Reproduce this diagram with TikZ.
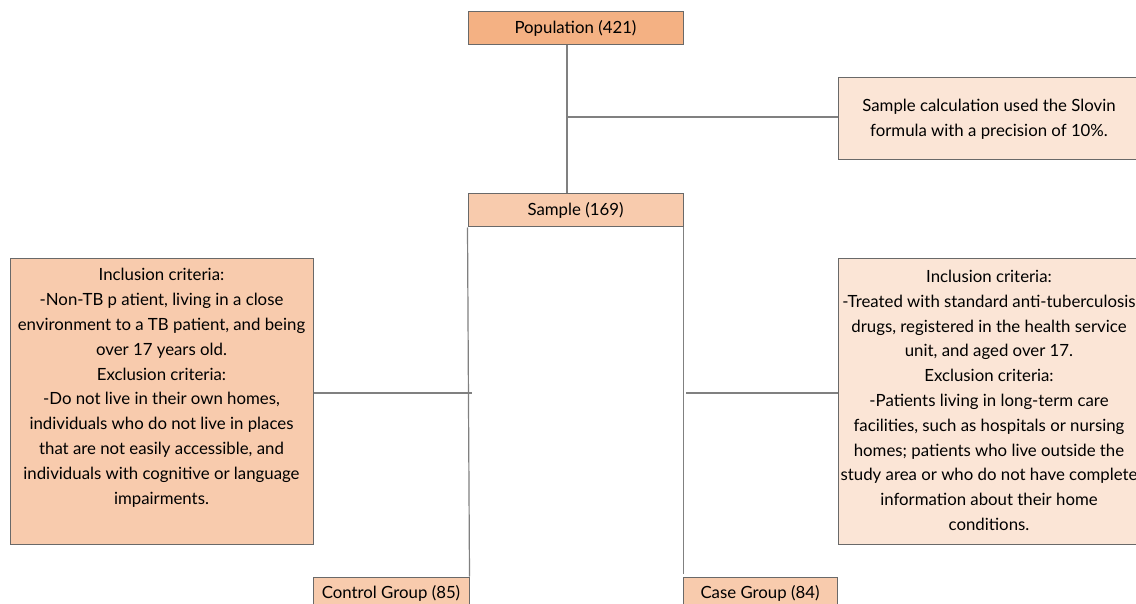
\documentclass[tikz,border=0pt]{standalone}
\usepackage{fontspec}
\setmainfont{Lato}
\usepackage{tikz}
\usetikzlibrary{positioning, calc}
\definecolor{popfill}{RGB}{244, 177, 131}
\definecolor{midfill}{RGB}{248, 203, 173}
\definecolor{lightfill}{RGB}{251, 229, 214}
\definecolor{edge}{RGB}{105, 105, 105}
\setlength{\tabcolsep}{0pt}
\tikzstyle{box} = [rectangle, draw=edge, line width=1pt, text centered, inner sep=0pt, font=\fontsize{16.8}{24.8}\selectfont]
\tikzstyle{link} = [draw=edge!85, line width=1.2pt]

\begin{document}
\begin{tikzpicture}[x=1pt, y=-1pt]
    \useasboundingbox (0, 0) rectangle (1136, 604);

    % Population and sample
    \node[box, fill=popfill, minimum width=215pt, minimum height=33pt] (pop) at (575.5, 28.5) {Population (421)};
    \node[box, fill=midfill, minimum width=215pt, minimum height=33pt] (sample) at (575.5, 210.5) {Sample (169)};

    % Sample calculation note
    \node[box, fill=lightfill, minimum width=302pt, minimum height=82pt] (slovin) at (989, 119) {
        \begin{tabular}{c}
            Sample calculation used the Slovin \\
            formula with a precision of 10\%.
        \end{tabular}
    };

    % Criteria boxes
    \node[box, fill=midfill, minimum width=303pt, minimum height=285pt] (critctrl) at (161.5, 401.5) {
        \begin{tabular}{c}
            Inclusion criteria: \\
            -Non-TB p atient, living in a close \\
            environment to a TB patient, and being \\
            over 17 years old. \\
            Exclusion criteria: \\
            -Do not live in their own homes, \\
            individuals who do not live in places \\
            that are not easily accessible, and \\
            individuals with cognitive or language \\
            impairments. \\[28pt]
        \end{tabular}
    };
    \node[box, fill=lightfill, minimum width=302pt, minimum height=285pt] (critcase) at (989, 401.5) {
        \begin{tabular}{c}
            Inclusion criteria: \\
            -Treated with standard anti-tuberculosis \\
            drugs, registered in the health service \\
            unit, and aged over 17. \\
            Exclusion criteria: \\
            -Patients living in long-term care \\
            facilities, such as hospitals or nursing \\
            homes; patients who live outside the \\
            study area or who do not have complete \\
            information about their home \\
            conditions.
        \end{tabular}
    };

    % Groups
    \node[box, fill=midfill, minimum width=156pt, minimum height=33pt] (control) at (391, 593.5) {Control Group (85)};
    \node[box, fill=midfill, minimum width=154pt, minimum height=33pt] (case) at (760, 593.5) {Case Group (84)};

    % Connections
    \coordinate (split) at (567, 117);
    \coordinate (ljoin) at (472, 393);
    \coordinate (rjoin) at (686, 393);
    \draw[link] (split |- pop.south) -- (split |- sample.north);
    \draw[link] (split) -- (split -| slovin.west);
    \draw[link] (sample.south west) -- (control.north east);
    \draw[link, shorten >=3pt] (sample.south east) -- (sample.south east |- case.north);
    \draw[link] (ljoin -| critctrl.east) -- (ljoin);
    \draw[link] (rjoin) -- (rjoin -| critcase.west);
\end{tikzpicture}
\end{document}
